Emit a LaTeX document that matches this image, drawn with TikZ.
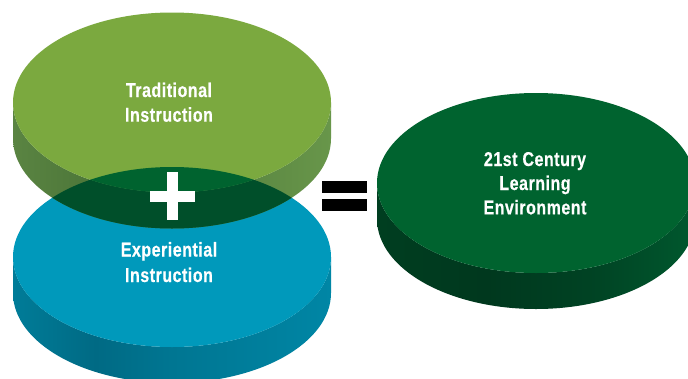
\documentclass[tikz,border=0pt]{standalone}
\usepackage{fontspec}
\setmainfont[FakeStretch=0.8,LetterSpace=2.6,BoldFeatures={FakeBold=0.4}]{Liberation Sans}
\definecolor{oliveTop}{HTML}{7BA93F}
\definecolor{tealTop}{HTML}{0099BB}
\definecolor{greenTop}{HTML}{00632F}
\definecolor{overlapSide}{HTML}{004F2A}
\definecolor{oa}{RGB}{90,132,66}\definecolor{ob}{RGB}{78,120,58}\definecolor{oc}{RGB}{82,124,60}\definecolor{od}{RGB}{104,150,74}
\definecolor{ta}{RGB}{0,124,152}\definecolor{tb}{RGB}{0,106,132}\definecolor{tc}{RGB}{0,118,146}\definecolor{td}{RGB}{0,134,165}
\definecolor{ga}{RGB}{0,62,32}\definecolor{gb}{RGB}{0,56,30}\definecolor{gc}{RGB}{0,66,35}\definecolor{gd}{RGB}{0,88,46}
\pgfdeclarehorizontalshading{oliveSide}{100bp}{color(0bp)=(oa);color(25bp)=(oa);color(36bp)=(ob);color(50bp)=(oc);color(75bp)=(od);color(100bp)=(od)}
\pgfdeclarehorizontalshading{tealSide}{100bp}{color(0bp)=(ta);color(25bp)=(ta);color(38bp)=(tb);color(50bp)=(tc);color(75bp)=(td);color(100bp)=(td)}
\pgfdeclarehorizontalshading{greenSide}{100bp}{color(0bp)=(ga);color(25bp)=(ga);color(42bp)=(gb);color(58bp)=(gc);color(75bp)=(gd);color(100bp)=(gd)}
\tikzset{
  disclabel/.style={text=white,font=\fontsize{20}{20}\selectfont\bfseries,inner sep=0pt,anchor=base},
  sign/.style={fill=#1,draw=none},
  discface/.style={x radius=159pt,y radius=90pt}
}
\newcommand{\sidepath}[2]{(#1-159,#2) -- (#1-159,#2+36) arc[start angle=180,end angle=360,x radius=159pt,y radius=90pt] -- (#1+159,#2) arc[start angle=360,end angle=180,x radius=159pt,y radius=90pt] -- cycle}
\begin{document}
\begin{tikzpicture}[x=1pt,y=-1pt]
\useasboundingbox (0,0) rectangle (688,378);
\clip (0,0) rectangle (688,378);
\fill[white] (0,0) rectangle (688,378);
% lower disc
\shade[shading=tealSide] \sidepath{172}{257};
\fill[tealTop] (172,257) ellipse[discface];
% upper disc
\shade[shading=oliveSide] \sidepath{172}{102.5};
\fill[oliveTop] (172,102.5) ellipse[discface];
% overlap of upper disc with lower disc face
\begin{scope}
  \clip (172,257) ellipse[discface];
  \fill[overlapSide] \sidepath{172}{102.5};
  \fill[greenTop] (172,102.5) ellipse[discface];
\end{scope}
% right disc
\shade[shading=greenSide] \sidepath{536}{183};
\fill[greenTop] (536,183) ellipse[discface];
% signs
\fill[sign=white] (150,190.7) rectangle (195,201.7);
\fill[sign=white] (166.7,172) rectangle (177.7,220);
\fill[sign=black] (322,180.7) rectangle (367,192.7);
\fill[sign=black] (322,199) rectangle (367,211);
% labels
\node[disclabel] (t1) at (169,97) {Traditional};
\node[disclabel] (t2) at (169,121.7) {Instruction};
\node[disclabel] (e1) at (169,256.5) {Experiential};
\node[disclabel] (e2) at (169,282) {Instruction};
\node[disclabel] (c1) at (535,166) {21st Century};
\node[disclabel] (c2) at (535,190) {Learning};
\node[disclabel] (c3) at (535,214.3) {Environment};
\end{tikzpicture}
\end{document}
